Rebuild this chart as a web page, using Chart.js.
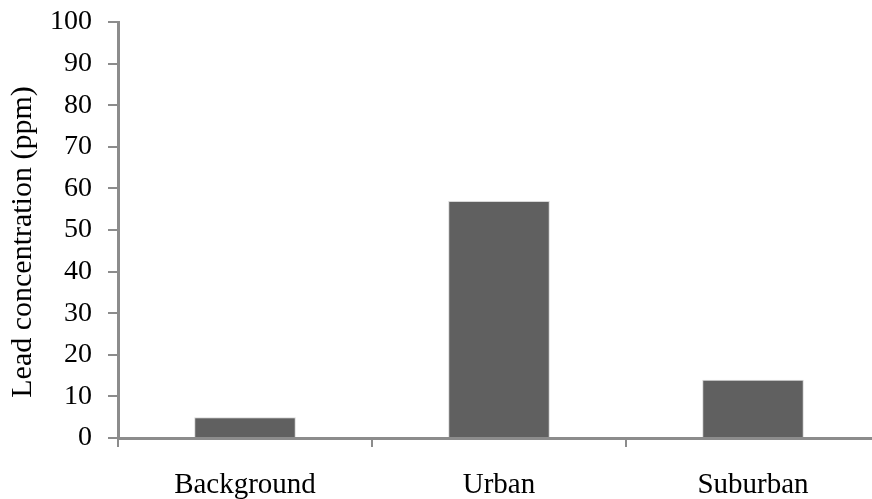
<!DOCTYPE html>
<html>
<head>
<meta charset="utf-8">
<script src="https://cdn.jsdelivr.net/npm/chart.js@4/dist/chart.umd.min.js"></script>
<style>
  html, body { margin: 0; padding: 0; background: #fff; overflow: hidden; }
  #wrap { position: relative; width: 880px; height: 499px; }
</style>
</head>
<body>
<div id="wrap"><canvas id="c" width="880" height="499"></canvas></div>
<script>
const categories = ["Background", "Urban", "Suburban"];
const leadValues = [5, 57, 14];
const yTicks = [0, 10, 20, 30, 40, 50, 60, 70, 80, 90, 100];
const yTitle = "Lead concentration (ppm)";

const axisColor = "#8c8c8c";
const serif = "'Liberation Serif', 'Times New Roman', serif";

// Draw the y-axis title slightly below the plot centre, as in the reference
const yTitlePlugin = {
  id: "yTitle",
  afterDraw(chart) {
    const ctx = chart.ctx;
    const area = chart.chartArea;
    ctx.save();
    ctx.fillStyle = "#000";
    ctx.font = "30px " + serif;
    ctx.textAlign = "center";
    ctx.textBaseline = "middle";
    ctx.translate(23, (area.top + area.bottom) / 2 + 12);
    ctx.rotate(-Math.PI / 2);
    ctx.fillText(yTitle, 0, 0);
    ctx.restore();
  }
};

new Chart(document.getElementById("c"), {
  type: "bar",
  data: {
    labels: categories,
    datasets: [{
      data: leadValues,
      backgroundColor: "#606060",
      borderColor: "#d8d8d8",
      borderWidth: { top: 1, left: 1, right: 1, bottom: 0 },
      barPercentage: 0.4,
      categoryPercentage: 1.0
    }]
  },
  options: {
    responsive: false,
    animation: false,
    devicePixelRatio: 1,
    layout: { padding: { top: 22, right: 0, bottom: 0, left: 0 } },
    plugins: { legend: { display: false }, tooltip: { enabled: false } },
    scales: {
      x: {
        offset: true,
        grid: {
          display: true,
          offset: true,
          drawOnChartArea: false,
          drawTicks: true,
          tickLength: 9,
          color: axisColor,
          lineWidth: 2
        },
        border: { display: true, color: axisColor, width: 3 },
        ticks: {
          color: "#000",
          font: { family: serif, size: 29 },
          padding: 21,
          maxRotation: 0
        },
        afterFit: (s) => { s.height = 61; s.paddingLeft = 0; s.paddingRight = 0; }
      },
      y: {
        min: 0,
        max: 100,
        afterBuildTicks: (s) => { s.ticks = yTicks.map(v => ({ value: v })); },
        grid: {
          display: true,
          drawOnChartArea: false,
          drawTicks: true,
          tickLength: 10,
          color: axisColor,
          lineWidth: 2
        },
        border: { display: true, color: axisColor, width: 3 },
        ticks: {
          color: "#000",
          font: { family: serif, size: 28 },
          padding: 16
        },
        afterFit: (s) => { s.width = 118; s.paddingTop = 0; s.paddingBottom = 0; }
      }
    }
  },
  plugins: [yTitlePlugin]
});
</script>
</body>
</html>
